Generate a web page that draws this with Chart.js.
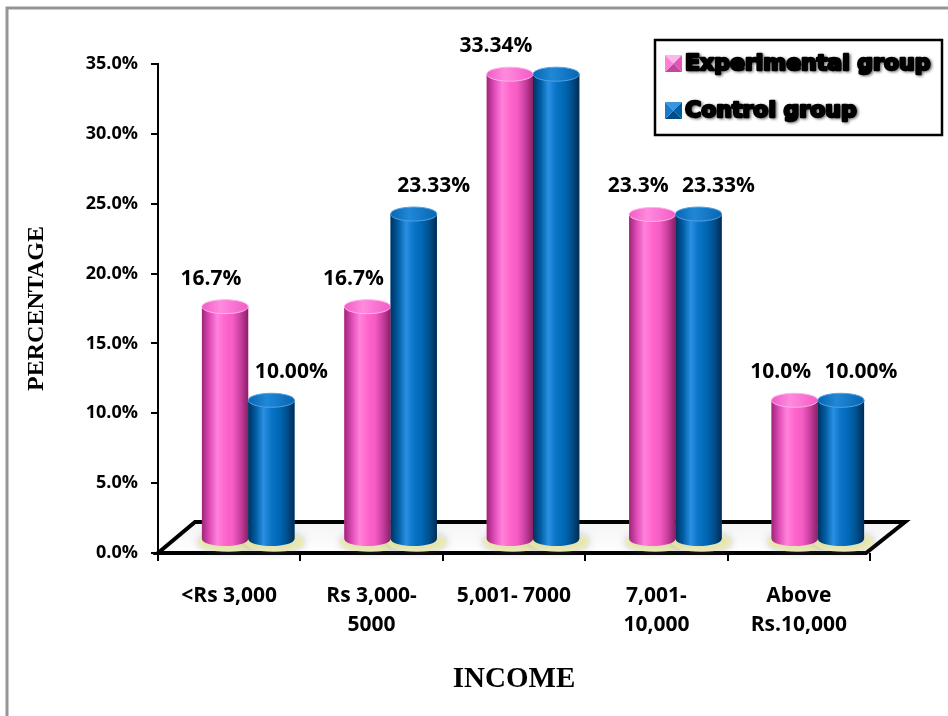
<!DOCTYPE html>
<html lang="en">
<head>
  <meta charset="UTF-8" />
  <title>Income distribution</title>
  <style>
    body { margin: 0; background: #fff; }
    #wrap { width: 948px; height: 716px; }
  </style>
</head>
<body>
  <div id="wrap"><canvas id="chart" width="948" height="716"></canvas></div>

  <script src="https://cdn.jsdelivr.net/npm/chart.js@4.4.1/dist/chart.umd.min.js"></script>
  <script>
    // income groups and the share of each group in percent
    var incomeGroups = [["<Rs 3,000"], ["Rs 3,000-", "5000"], ["5,001- 7000"], ["7,001-", "10,000"], ["Above", "Rs.10,000"]];
    var experimental = [16.7, 16.7, 33.34, 23.3, 10.0];
    var control = [10.00, 23.33, 33.34, 23.33, 10.00];
    var experimentalLabels = ["16.7%", "16.7%", "33.34%", "23.3%", "10.0%"];
    var controlLabels = ["10.00%", "23.33%", "", "23.33%", "10.00%"];
    var yTicks = [0, 5, 10, 15, 20, 25, 30, 35];

    // fake 3d depth: bars stand in the middle of the floor
    var depthX = 19, depthY = -13;

    var pinkShades = ['#9c2577', '#e04cb8', '#ff82db', '#ff66cc', '#f55cc4', '#c83e9f', '#8a1f65'];
    var blueShades = ['#00325e', '#005da4', '#2a90e2', '#0a74c6', '#0068b5', '#00508e', '#002c55'];

    // grey frame round the picture
    var frame = {
      id: 'frame',
      beforeDraw: function (chart) {
        var ctx = chart.ctx;
        ctx.save();
        ctx.fillStyle = '#fff';
        ctx.fillRect(0, 0, chart.width, chart.height);
        ctx.strokeStyle = '#959595';
        ctx.lineWidth = 3;
        ctx.beginPath();
        ctx.moveTo(7, chart.height);
        ctx.lineTo(7, 8);
        ctx.lineTo(chart.width, 8);
        ctx.stroke();
        ctx.restore();
      }
    };

    function cylinder(ctx, el, shades, cap) {
      var p = el.getProps(['x', 'y', 'base', 'width'], true);
      var l = p.x - p.width / 2, r = p.x + p.width / 2, rx = p.width / 2, ry = 7;
      var g = ctx.createLinearGradient(l, 0, r, 0);
      shades.forEach(function (s, i) { g.addColorStop(i / (shades.length - 1), s); });
      ctx.fillStyle = g;
      ctx.beginPath();
      ctx.moveTo(l, p.y);
      ctx.lineTo(l, p.base);
      ctx.ellipse(p.x, p.base, rx, ry, 0, Math.PI, 0, true);
      ctx.lineTo(r, p.y);
      ctx.closePath();
      ctx.fill();
      // top lid
      var t = ctx.createLinearGradient(l, 0, r, 0);
      t.addColorStop(0, cap[0]);
      t.addColorStop(0.4, cap[1]);
      t.addColorStop(1, cap[0]);
      ctx.fillStyle = t;
      ctx.beginPath();
      ctx.ellipse(p.x, p.y, rx, ry, 0, 0, Math.PI * 2);
      ctx.fill();
      ctx.strokeStyle = cap[2];
      ctx.lineWidth = 1;
      ctx.stroke();
    }

    var cylinders = {
      id: 'cylinders',
      beforeDatasetsDraw: function (chart) {
        var ctx = chart.ctx, a = chart.chartArea;
        // floor
        ctx.save();
        ctx.beginPath();
        ctx.moveTo(a.left, a.bottom);
        ctx.lineTo(a.right - 4, a.bottom);
        ctx.lineTo(a.right + 35, a.bottom - 31);
        ctx.lineTo(a.left + 37, a.bottom - 31);
        ctx.closePath();
        var fg = ctx.createLinearGradient(0, a.bottom - 31, 0, a.bottom);
        fg.addColorStop(0, '#f4f4f4');
        fg.addColorStop(1, '#ffffff');
        ctx.fillStyle = fg;
        ctx.fill();
        ctx.lineJoin = 'miter';
        ctx.strokeStyle = '#000';
        ctx.lineWidth = 4;
        ctx.stroke();
        ctx.restore();

        ctx.save();
        ctx.translate(depthX, depthY);
        // soft glow under every bar
        chart.data.datasets.forEach(function (ds, i) {
          chart.getDatasetMeta(i).data.forEach(function (el) {
            var p = el.getProps(['x', 'base', 'width'], true);
            ctx.save();
            ctx.shadowColor = 'rgba(110,110,110,0.55)';
            ctx.shadowBlur = 9;
            ctx.fillStyle = 'rgba(240,240,170,0.7)';
            ctx.beginPath();
            ctx.ellipse(p.x + 3, p.base + 3, p.width / 2 + 7, 10, 0, 0, Math.PI * 2);
            ctx.fill();
            ctx.restore();
          });
        });
      },
      afterDatasetsDraw: function (chart) {
        var ctx = chart.ctx;
        chart.getDatasetMeta(0).data.forEach(function (el) {
          cylinder(ctx, el, pinkShades, ['#f25cc6', '#ff8ade', '#ffb0e8']);
        });
        chart.getDatasetMeta(1).data.forEach(function (el) {
          cylinder(ctx, el, blueShades, ['#0866b0', '#2088d8', '#4ea2e6']);
        });
        ctx.restore();

        // value labels
        ctx.save();
        ctx.fillStyle = '#000';
        ctx.font = 'bold 21px "Open Sans"';
        ctx.textAlign = 'center';
        ctx.textBaseline = 'middle';
        [experimentalLabels, controlLabels].forEach(function (texts, i) {
          var nudge = i === 0 ? -14 : 20;
          chart.getDatasetMeta(i).data.forEach(function (el, j) {
            if (!texts[j]) return;
            ctx.fillText(texts[j], el.x + depthX + nudge, el.y + depthY - 28);
          });
        });
        ctx.restore();
      }
    };

    function pyramidMarker(ctx, x, y, s, faces) {
      var cx = x + s / 2, cy = y + s / 2;
      var pts = [[x, y], [x + s, y], [x + s, y + s], [x, y + s]];
      for (var k = 0; k < 4; k++) {
        var a = pts[k], b = pts[(k + 1) % 4];
        ctx.fillStyle = faces[k];
        ctx.beginPath();
        ctx.moveTo(a[0], a[1]);
        ctx.lineTo(b[0], b[1]);
        ctx.lineTo(cx, cy);
        ctx.closePath();
        ctx.fill();
      }
    }

    var legendBox = {
      id: 'legendBox',
      afterDraw: function (chart) {
        var ctx = chart.ctx;
        var bx = chart.width - 293, by = 40, bw = 287, bh = 95;
        var faces = [
          ['#ffb6e8', '#e455b9', '#c8429f', '#ff7fd8'],
          ['#3c95dc', '#005da4', '#004a86', '#1a7cc8']
        ];
        ctx.save();
        ctx.strokeStyle = '#000';
        ctx.lineWidth = 2.5;
        ctx.strokeRect(bx, by, bw, bh);
        ctx.font = 'bold 22px "DejaVu Sans"';
        ctx.textBaseline = 'middle';
        chart.data.datasets.forEach(function (ds, i) {
          var cy = by + 24 + i * 47;
          pyramidMarker(ctx, bx + 10, cy - 9, 17, faces[i]);
          ctx.save();
          ctx.shadowColor = 'rgba(0,0,0,0.45)';
          ctx.shadowBlur = 3;
          ctx.shadowOffsetX = 1.5;
          ctx.shadowOffsetY = 1.5;
          ctx.lineWidth = 2.5;
          ctx.strokeStyle = '#000';
          ctx.lineJoin = 'round';
          ctx.strokeText(ds.label, bx + 30, cy);
          ctx.fillStyle = '#000';
          ctx.fillText(ds.label, bx + 30, cy);
          ctx.restore();
        });
        ctx.restore();
      }
    };

    new Chart(document.getElementById('chart'), {
      type: 'bar',
      data: {
        labels: incomeGroups,
        datasets: [
          { label: 'Experimental group', data: experimental, backgroundColor: '#ff66cc' },
          { label: 'Control group', data: control, backgroundColor: '#0070c0' }
        ]
      },
      options: {
        responsive: false,
        animation: false,
        layout: { padding: { top: 64, right: 78, left: 0, bottom: 0 } },
        datasets: { bar: { categoryPercentage: 0.65, barPercentage: 1.0, clip: false } },
        plugins: { legend: { display: false }, tooltip: { enabled: false } },
        scales: {
          x: {
            grid: { offset: true, drawOnChartArea: false, color: '#000', lineWidth: 2, tickLength: 8 },
            border: { display: false },
            ticks: {
              color: '#000', padding: 21, maxRotation: 0, autoSkip: false,
              font: { family: 'Open Sans', weight: 'bold', size: 21, lineHeight: 1.35 }
            },
            title: {
              display: true, text: 'INCOME', color: '#000',
              font: { family: 'Liberation Serif', weight: 'bold', size: 29 },
              padding: { top: 0, bottom: 19 }
            },
            afterFit: function (s) { s.height = 163; }
          },
          y: {
            min: 0,
            max: 35,
            afterBuildTicks: function (s) {
              s.ticks = yTicks.map(function (v) { return { value: v }; });
            },
            grid: { drawOnChartArea: false, color: '#000', lineWidth: 2, tickLength: 7 },
            border: { color: '#000', width: 2 },
            ticks: {
              color: '#000', padding: 13,
              font: { family: 'Open Sans', weight: 'bold', size: 18 },
              callback: function (v) { return v.toFixed(1) + '%'; }
            },
            title: {
              display: true, text: 'PERCENTAGE', color: '#000',
              font: { family: 'Liberation Serif', weight: 'bold', size: 24 },
              padding: { top: 22, bottom: 0 }
            },
            afterFit: function (s) { s.width = 158; }
          }
        }
      },
      plugins: [frame, cylinders, legendBox]
    });
  </script>
</body>
</html>
